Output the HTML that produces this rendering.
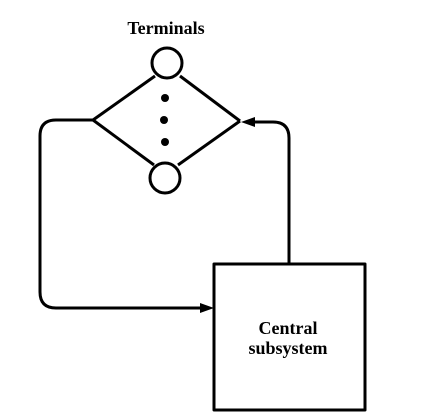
<!DOCTYPE html>
<html><head><style>body{margin:0;background:#fff}svg{display:block}</style></head><body>
<svg width="434" height="420" viewBox="0 0 434 420" xmlns="http://www.w3.org/2000/svg">
<g fill="none" stroke="#000" stroke-width="3" stroke-linejoin="round">
<circle cx="167" cy="63" r="15"/>
<circle cx="165" cy="178" r="15"/>
<line x1="155" y1="76" x2="93" y2="120"/>
<line x1="93" y1="120" x2="154" y2="165"/>
<line x1="180" y1="76" x2="240" y2="121"/>
<line x1="240" y1="121" x2="178" y2="165"/>
<path d="M93 120 H56 Q40 120 40 136 V292 Q40 308 56 308 H205"/>
<path d="M289 264 V138 Q289 122 273 122 H250"/>
<rect x="214" y="264" width="151" height="146"/>
</g>
<polygon points="214,308 200,303 200,313" fill="#000"/>
<polygon points="241,122 255,117 255,127" fill="#000"/>
<circle cx="165" cy="98" r="4"/>
<circle cx="164" cy="120" r="4"/>
<circle cx="165" cy="142" r="4"/>
<g font-family="Liberation Serif, serif" font-size="18" font-weight="bold" text-anchor="middle" fill="#000">
<text x="166" y="34">Terminals</text>
<text x="288" y="334">Central</text>
<text x="288" y="354">subsystem</text>
</g>
</svg>
</body></html>
